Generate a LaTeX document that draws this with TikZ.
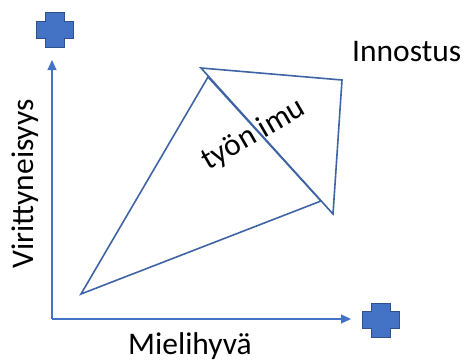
\documentclass[tikz,border=0pt]{standalone}
\usepackage{fontspec}
\setmainfont{Carlito}
\usetikzlibrary{arrows.meta}
\definecolor{axisblue}{HTML}{4472C4}
\definecolor{lineblue}{HTML}{3F64A6}
\definecolor{crossedge}{HTML}{2F528F}
\begin{document}
\begin{tikzpicture}[x=1pt,y=-1pt,
  lbl/.style={font=\fontsize{31.5}{36}\selectfont, inner sep=0pt, text=black},
  axisline/.style={draw=axisblue, line width=1.1pt, -{Triangle[length=10pt,width=9pt]}},
  tri/.style={draw=lineblue, line width=1.6pt, line join=miter},
  plusshape/.style={fill=axisblue, draw=crossedge, line width=0.8pt}]
\useasboundingbox (0,0) rectangle (465,359);
% axes
\coordinate (O) at (52,319);
\coordinate (Ytip) at (52,60);
\coordinate (Xtip) at (351,319);
\draw[axisline] (O) -- (Ytip);
\draw[axisline] (O) -- (Xtip);
% plus shapes
\draw[plusshape] (45,12) -- (64,12) -- (64,21) -- (73,21) -- (73,38) -- (64,38) -- (64,47) -- (45,47) -- (45,38) -- (36,38) -- (36,21) -- (45,21) -- cycle;
\draw[plusshape] (371,303) -- (390,303) -- (390,311.5) -- (399,311.5) -- (399,328.5) -- (390,328.5) -- (390,337) -- (371,337) -- (371,328.5) -- (362,328.5) -- (362,311.5) -- (371,311.5) -- cycle;
% shapes
\coordinate (A) at (81,294);
\coordinate (B) at (208,77);
\coordinate (C) at (321,201);
\coordinate (P) at (201,68);
\coordinate (Q) at (342,80);
\coordinate (R) at (333,214);
\draw[tri] (A) -- (B) -- (C) -- cycle;
\draw[tri] (P) -- (Q) -- (R) -- cycle;
% labels
\node[lbl, anchor=base west] (inn) at (352,61) {Innostus};
\node[lbl, anchor=base] (mie) at (190,354) {Mielihyvä};
\node[lbl, anchor=base, rotate=90] (vir) at (33,184) {Virittyneisyys};
\node[lbl, anchor=base, rotate=30] (tyo) at (258,142) {työn imu};
\end{tikzpicture}
\end{document}
